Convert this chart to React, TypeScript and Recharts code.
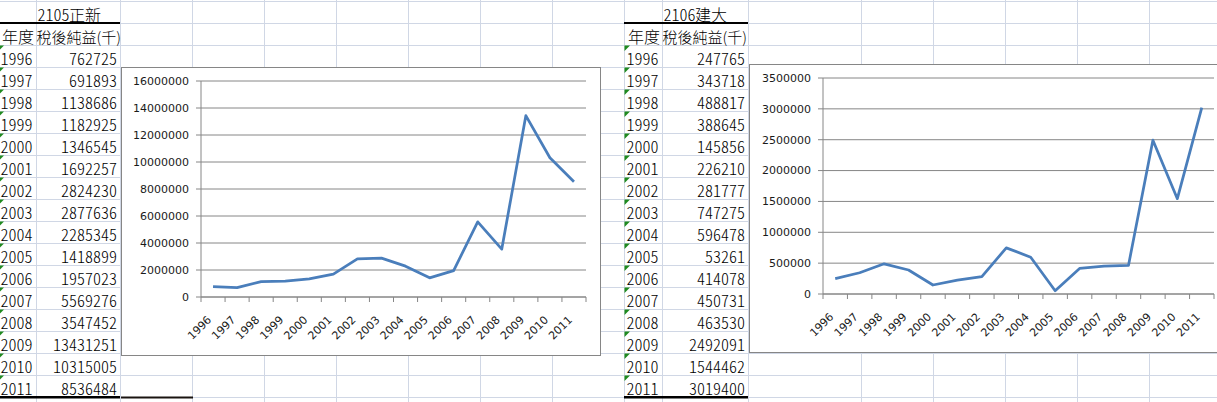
import React from 'react';
import { CartesianGrid, Line, LineChart, XAxis, YAxis } from 'recharts';

const years = ['1996', '1997', '1998', '1999', '2000', '2001', '2002', '2003', '2004', '2005', '2006', '2007', '2008', '2009', '2010', '2011'];
const zhengxin = [762725, 691893, 1138686, 1182925, 1346545, 1692257, 2824230, 2877636, 2285345, 1418899, 1957023, 5569276, 3547452, 13431251, 10315005, 8536484];
const jianda = [247765, 343718, 488817, 388645, 145856, 226210, 281777, 747275, 596478, 53261, 414078, 450731, 463530, 2492091, 1544462, 3019400];
const zhengxinTicks = [0, 2000000, 4000000, 6000000, 8000000, 10000000, 12000000, 14000000, 16000000];
const jiandaTicks = [0, 500000, 1000000, 1500000, 2000000, 2500000, 3000000, 3500000];

const colEdges = [-2, 36, 120, 192, 264, 336, 408, 480, 552, 624, 662, 748, 861, 933, 1005, 1077, 1149, 1221];
const rowH = 22;
const rowTop = 1;

const GRID = '#d0d7e5';
const AXIS = '#868686';
const LINE = '#4a7ebb';
const CJK = '"Noto Sans CJK TC", sans-serif';
const LABEL_FONT = '"DejaVu Sans", sans-serif';

function YearTick(props: any) {
  const { x, y, payload, index } = props;
  const off = payload?.offset ?? 0;
  const base = y - 7;
  return (
    <g>
      <line x1={x - off} x2={x - off} y1={base} y2={base + 5} stroke={AXIS} />
      {index === years.length - 1 && <line x1={x + off} x2={x + off} y1={base} y2={base + 5} stroke={AXIS} />}
      <text
        transform={`translate(${x - 1},${y + 16.5}) rotate(-45)`}
        textAnchor="end"
        fontSize={11}
        fontFamily={LABEL_FONT}
        fill="#1a1a1a"
      >
        {payload.value}
      </text>
    </g>
  );
}

function SheetChart({ values, ticks, left, top, yWidth }: { values: number[]; ticks: number[]; left: number; top: number; yWidth: number }) {
  const data = years.map((year, i) => ({ year, value: values[i] }));
  return (
    <div
      style={{
        position: 'absolute',
        left,
        top,
        width: 478,
        height: 287,
        border: `1px solid ${AXIS}`,
        background: '#fff',
      }}
    >
      <LineChart width={478} height={287} data={data} margin={{ top: 13, right: 14, bottom: 1, left: 0 }}>
        <CartesianGrid vertical={false} stroke={AXIS} />
        <XAxis
          dataKey="year"
          scale="band"
          interval={0}
          tickLine={false}
          axisLine={{ stroke: AXIS }}
          height={57}
          tickSize={5}
          tickMargin={2}
          tick={(p: any) => <YearTick {...p} />}
        />
        <YAxis
          width={yWidth}
          domain={[0, ticks[ticks.length - 1]]}
          ticks={ticks}
          interval={0}
          tickSize={5}
          tickMargin={7}
          stroke={AXIS}
          tick={{ fontSize: 11, fill: '#1a1a1a', fontFamily: LABEL_FONT }}
        />
        <Line
          dataKey="value"
          stroke={LINE}
          strokeWidth={2.75}
          strokeLinejoin="round"
          dot={false}
          activeDot={false}
          isAnimationActive={false}
        />
      </LineChart>
    </div>
  );
}

function SheetTable({ colA, title, values }: { colA: number; title: string; values: number[] }) {
  const colB = colEdges[colEdges.indexOf(colA) + 1];
  const colBEnd = colEdges[colEdges.indexOf(colA) + 2];
  const bottom = (r: number) => rowTop + rowH * (r + 1);
  const numStyle = { fontFeatureSettings: '"hwid"' } as React.CSSProperties;
  return (
    <g fontFamily={CJK} fill="#000" fontWeight={300}>
      <text x={colB + 1.5} y={bottom(0) - 2.5} fontSize={16} style={numStyle}>{title.slice(0, 4)}</text>
      <text x={colB + 33} y={bottom(0) - 2.5} fontSize={16}>{title.slice(4)}</text>
      <text x={colA + 4} y={bottom(1) - 2.5} fontSize={16}>年度</text>
      <text x={colB + 0.5} y={bottom(1) - 2.5} fontSize={15}>稅後純益(千)</text>
      {years.map((y, i) => (
        <g key={y}>
          <polygon
            points={`${colA + 0.5},${bottom(i + 1) + 0.5} ${colA + 6},${bottom(i + 1) + 0.5} ${colA + 0.5},${bottom(i + 1) + 6}`}
            fill="#1f8a1f"
          />
          <text x={colA + 2.5} y={bottom(i + 2) - 2} fontSize={16} style={numStyle}>{y}</text>
          <text x={colBEnd - 3} y={bottom(i + 2) - 2} fontSize={16} textAnchor="end" style={numStyle}>
            {values[i]}
          </text>
        </g>
      ))}
      <rect x={colA} y={bottom(0) - 1} width={colBEnd - colA} height={2} fill="#000" />
      <rect x={colA} y={bottom(17) - 1} width={colBEnd - colA} height={2.5} fill="#000" />
    </g>
  );
}

export default function App() {
  const rows = Array.from({ length: 19 }, (_, k) => rowTop + rowH * k);
  return (
    <div style={{ position: 'absolute', left: 0, top: 0, width: 1217, height: 402, overflow: 'hidden', background: '#fff' }}>
      <svg width={1217} height={402} style={{ position: 'absolute', left: 0, top: 0 }}>
        {rows.map((y) => (
          <line key={`r${y}`} x1={0} x2={1217} y1={y + 0.5} y2={y + 0.5} stroke={GRID} />
        ))}
        {colEdges.map((x) => (
          <line key={`c${x}`} x1={x + 0.5} x2={x + 0.5} y1={0} y2={402} stroke={GRID} />
        ))}
        <SheetTable colA={-2} title="2105正新" values={zhengxin} />
        <SheetTable colA={624} title="2106建大" values={jianda} />
        <rect x={121} y={396.5} width={72} height={2} fill="#1a1410" />
      </svg>
      <SheetChart values={zhengxin} ticks={zhengxinTicks} left={121} top={67} yWidth={79} />
      <SheetChart values={jianda} ticks={jiandaTicks} left={749} top={64} yWidth={73} />
    </div>
  );
}
